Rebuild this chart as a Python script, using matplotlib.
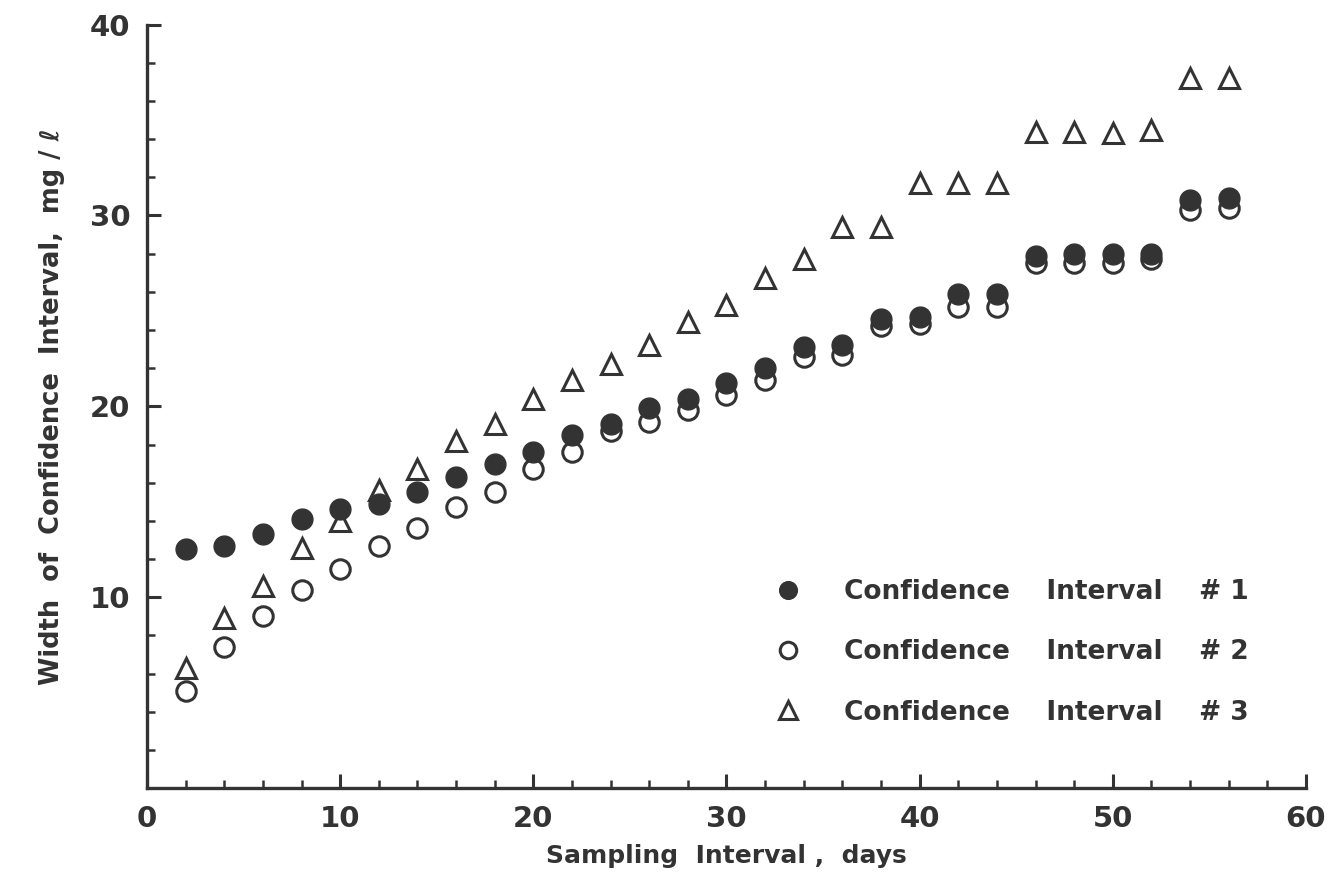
import matplotlib.pyplot as plt
from matplotlib.ticker import MultipleLocator

INK = "#333333"

days = [2, 4, 6, 8, 10, 12, 14, 16, 18, 20, 22, 24, 26, 28,
        30, 32, 34, 36, 38, 40, 42, 44, 46, 48, 50, 52, 54, 56]

ci1 = [12.5, 12.7, 13.3, 14.1, 14.6, 14.9, 15.5, 16.3, 17.0, 17.6, 18.5, 19.1, 19.9, 20.4,
       21.2, 22.0, 23.1, 23.2, 24.6, 24.7, 25.9, 25.9, 27.9, 28.0, 28.0, 28.0, 30.8, 30.9]
ci2 = [5.1, 7.4, 9.0, 10.4, 11.5, 12.7, 13.6, 14.7, 15.5, 16.7, 17.6, 18.7, 19.2, 19.8,
       20.6, 21.4, 22.6, 22.7, 24.2, 24.3, 25.2, 25.2, 27.5, 27.5, 27.5, 27.7, 30.3, 30.4]
ci3 = [6.3, 8.9, 10.6, 12.6, 14.0, 15.6, 16.7, 18.2, 19.1, 20.4, 21.4, 22.2, 23.2, 24.4,
       25.3, 26.7, 27.7, 29.4, 29.4, 31.7, 31.7, 31.7, 34.4, 34.4, 34.3, 34.5, 37.2, 37.2]

labels = ["Confidence    Interval    # 1",
          "Confidence    Interval    # 2",
          "Confidence    Interval    # 3"]

plt.rcParams['font.family'] = ['DejaVu Sans']
plt.rcParams['font.weight'] = 'bold'
plt.rcParams['axes.labelweight'] = 'bold'

fig = plt.figure(figsize=(13.28, 8.8), dpi=100)
ax = fig.add_axes([0.1107, 0.1045, 0.8727, 0.8675])

ax.plot(days, ci3, linestyle='none', marker='^', ms=15, mfc='white', mec=INK, mew=2.2,
        label=labels[2], zorder=2)
ax.plot(days, ci2, linestyle='none', marker='o', ms=14, mfc='white', mec=INK, mew=2.2,
        label=labels[1], zorder=3)
ax.plot(days, ci1, linestyle='none', marker='o', ms=15, mfc=INK, mec=INK, mew=1,
        label=labels[0], zorder=4)

ax.set_xlim(0, 60)
ax.set_ylim(0, 40)
ax.xaxis.set_major_locator(MultipleLocator(10))
ax.xaxis.set_minor_locator(MultipleLocator(2))
ax.yaxis.set_major_locator(MultipleLocator(10))
ax.yaxis.set_minor_locator(MultipleLocator(2))
ax.set_yticks([10, 20, 30, 40])

for side in ['top', 'right']:
    ax.spines[side].set_visible(False)
for side in ['left', 'bottom']:
    ax.spines[side].set_linewidth(2.4)
    ax.spines[side].set_color(INK)

ax.tick_params(which='major', direction='in', length=10, width=2.2, color=INK,
               labelsize=21, labelcolor=INK, pad=12)
ax.tick_params(which='minor', direction='in', length=6, width=1.8, color=INK)

ax.set_xlabel("Sampling  Interval ,  days", fontsize=18, color=INK, labelpad=8)
ax.set_ylabel("Width  of  Confidence  Interval,  mg / ℓ", fontsize=18.5, color=INK, labelpad=18)

handles, labs = ax.get_legend_handles_labels()
order = [2, 1, 0]
leg = ax.legend([handles[i] for i in order], [labs[i] for i in order],
                loc='upper left', bbox_to_anchor=(0.51, 0.305), frameon=False,
                fontsize=19, labelspacing=1.3, handletextpad=1.1, markerscale=0.85)
for t in leg.get_texts():
    t.set_color(INK)

fig.savefig("out.png", dpi=100, facecolor='white')
